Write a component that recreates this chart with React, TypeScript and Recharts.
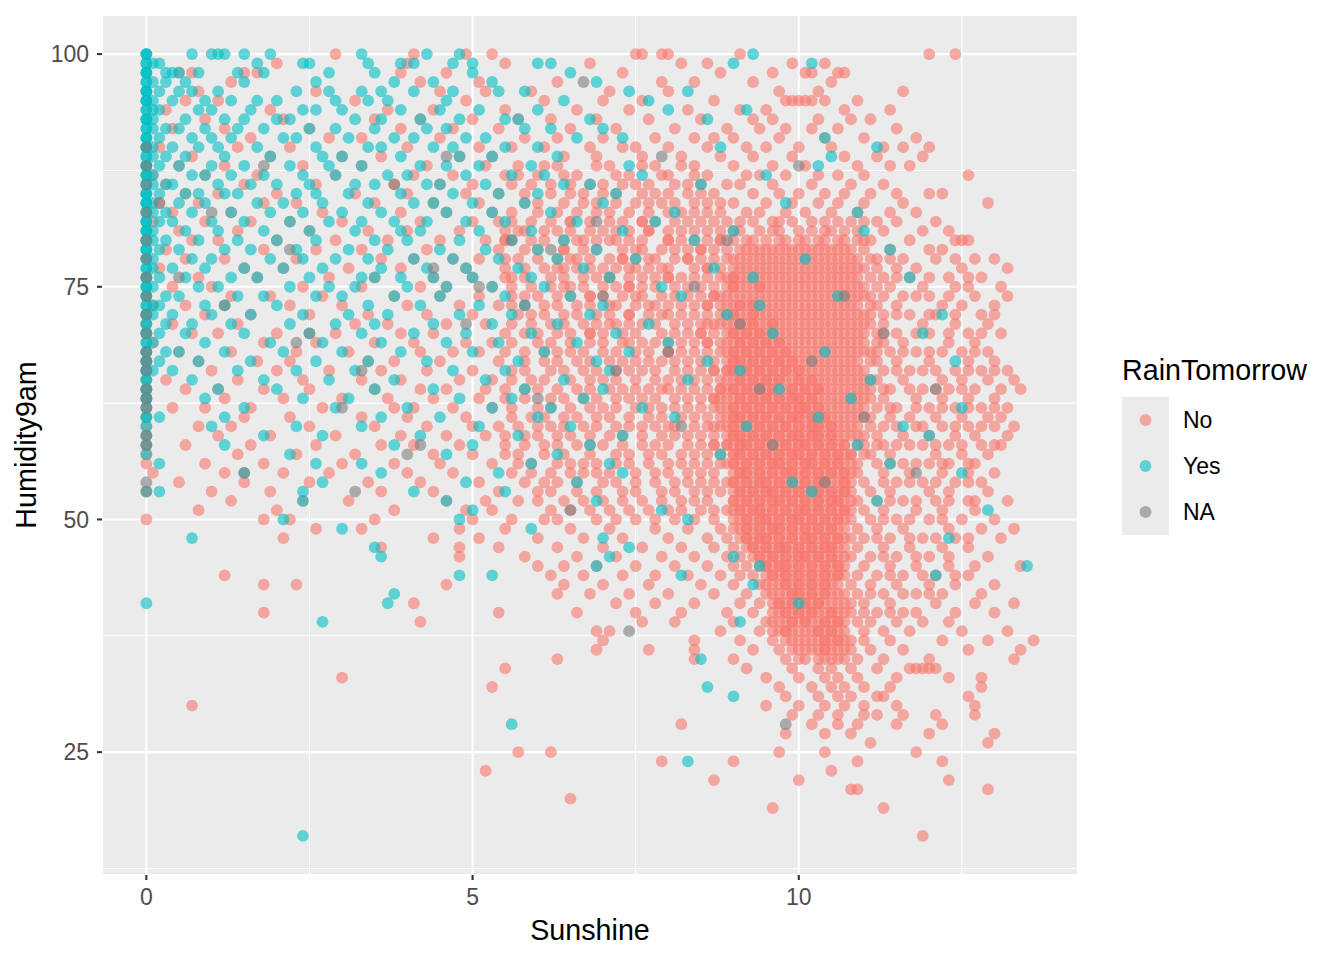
import React from 'react';
import { ScatterChart, Scatter, XAxis, YAxis, CartesianGrid, ReferenceLine, Label } from 'recharts';

const xTicks = [0, 5, 10];
const yTicks = [25, 50, 75, 100];
const xMinor = [2.5, 7.5, 12.5];
const yMinor = [12.5, 37.5, 62.5, 87.5];
const seriesNames = ['No', 'Yes', 'NA'];
const seriesColors = ['#F8766D', '#00BFC4', '#7F7F7F'];

// "Humidity9am: Sunshine Sunshine ..."
const noRows = [
  '100: 2.9 4.1 4.9 5.3 7.5 7.6 7.9 8.0 9.1 12.0 12.4',
  '99: 2.0 4.0 5.5 6.8 8.2 8.6 9.9 10.4',
  '98: 0.5 0.7 1.5 1.7 3.9 4.6 7.3 8.8 9.6 10.1 10.2 10.6 10.7',
  '97: 1.3 4.2 5.1 6.3 7.9 8.4 9.3 10.5',
  '96: 0.8 2.6 4.5 5.2 5.9 7.1 8.0 9.7 10.3 11.6',
  '95: 0.6 1.1 3.2 4.9 6.1 7.0 7.6 8.7 9.8 9.9 10.0 10.1 10.2 10.4 10.9',
  '94: 0.3 1.9 3.7 4.4 5.5 6.6 7.4 8.3 9.1 9.5 10.7 11.4',
  '93: 0.9 2.1 3.5 4.2 5.0 5.7 6.2 6.9 7.7 8.5 9.3 9.6 10.3 10.8 11.1',
  '92: 0.4 1.2 2.5 3.9 4.7 5.4 6.5 7.2 8.1 8.9 9.4 9.8 10.2 10.6 11.5',
  '91: 1.6 2.8 3.3 4.5 5.8 6.3 7.0 7.8 8.4 8.7 9.0 9.7 10.4 11.0 11.8',
  '90: 0.2 1.4 2.2 4.0 5.1 5.6 6.1 6.8 7.3 7.5 8.0 8.6 9.2 9.5 10.0 10.5 11.3 11.6 12.0',
  '89: 0.7 1.9 3.0 3.6 4.8 5.3 6.4 6.9 7.6 8.2 8.8 9.3 9.9 10.7 11.2 11.9',
  '88: 0.5 1.2 2.4 3.3 4.3 5.2 5.7 6.3 7.1 7.8 8.4 9.0 9.6 10.1 10.9 11.4 11.7',
  '87: 0.1 0.9 1.7 2.9 4.1 4.7 5.5 6.0 6.6 7.4 7.9 8.6 9.2 9.4 9.8 10.3 10.6 11.0 12.6',
  '86: 0.3 1.5 2.6 3.8 4.5 5.0 5.9 6.5 7.0 7.3 7.7 8.1 8.5 8.9 9.1 9.6 10.2 10.8 11.3',
  '85: 0.6 1.1 2.0 3.2 4.0 4.9 5.4 6.2 6.7 7.2 7.6 8.0 8.3 8.7 9.3 9.7 10.0 10.4 10.7 11.1 11.5 12.0 12.2',
  '84: 0.2 0.8 1.8 2.3 3.5 4.4 5.1 5.8 6.4 6.9 7.5 7.9 8.4 8.8 9.0 9.5 9.9 10.3 10.6 11.0 11.6 12.9',
  '83: 0.4 1.3 2.7 3.9 4.6 5.3 6.0 6.6 7.1 7.7 8.2 8.6 9.2 9.4 9.8 10.1 10.5 10.9 11.4 11.8',
  '82: 0.1 0.9 1.6 2.2 3.0 4.2 5.0 5.6 6.2 6.8 7.3 7.8 8.1 8.5 8.9 9.3 9.6 9.9 10.2 10.6 11.0 11.2 11.5 12.1',
  '81: 0.5 1.4 2.5 3.4 4.0 4.8 5.5 6.1 6.5 7.0 7.4 8.0 8.4 8.8 9.1 9.4 9.7 10.0 10.4 10.7 11.3 11.9 12.3',
  '80: 0.0 0.7 1.1 2.0 2.9 3.7 4.5 5.2 5.9 6.4 6.9 7.2 7.6 8.2 8.6 9.0 9.2 9.5 9.8 10.1 10.3 10.6 10.9 11.1 11.7 12.4 12.5 12.6',
  '79: 0.3 1.8 2.6 3.3 4.3 5.4 6.0 6.7 7.3 7.9 8.3 8.7 9.1 9.3 9.6 9.9 10.2 10.5 10.8 11.4 12.0 12.2',
  '78: 0.0 0.6 1.2 2.3 3.6 4.1 4.7 5.1 5.7 6.3 6.8 7.1 7.5 7.8 8.1 8.5 8.9 9.2 9.4 9.7 10.0 10.4 10.6 10.9 11.2 11.6 12.1 12.7 13.0',
  '77: 0.2 1.5 2.1 3.1 3.9 4.9 5.5 6.1 6.6 7.0 7.7 8.0 8.4 8.8 9.0 9.5 9.8 10.1 10.3 10.7 11.0 11.5 11.8 12.5 13.2',
  '76: 0.0 0.8 1.7 2.8 3.5 4.4 5.0 5.8 6.4 6.9 7.4 7.8 8.2 8.6 9.1 9.3 9.6 9.9 10.2 10.5 10.8 11.1 11.3 11.7 12.3 12.8',
  '75: 0.4 1.0 2.4 3.3 4.2 4.6 5.3 5.9 6.2 6.7 7.2 7.6 8.1 8.7 9.0 9.4 9.7 10.0 10.3 10.6 10.9 11.4 11.9 12.4 12.6 13.1',
  '74: 0.0 1.3 1.9 2.7 3.8 4.5 5.1 5.6 6.0 6.5 7.0 7.3 7.9 8.3 8.5 8.9 9.2 9.5 9.8 10.1 10.4 10.7 11.0 11.6 12.0 12.7 13.2',
  '73: 0.1 0.6 2.2 3.0 4.0 4.8 5.4 6.3 6.8 7.5 8.0 8.4 8.8 9.1 9.3 9.6 9.9 10.2 10.5 10.8 11.2 11.5 12.2 12.5 13.0',
  '72: 0.0 0.9 1.6 2.5 3.4 4.3 5.0 5.7 6.1 6.6 7.1 7.7 8.2 8.6 9.0 9.2 9.4 9.7 10.0 10.3 10.6 10.9 11.1 11.7 12.1 12.8',
  '71: 0.0 0.4 1.4 3.2 3.7 4.6 5.2 5.9 6.4 6.9 7.4 7.8 8.1 8.5 8.8 9.1 9.3 9.5 9.8 10.1 10.4 10.7 11.0 11.3 11.9 12.4 12.9',
  '70: 0.0 0.7 1.1 2.0 2.9 3.9 4.4 5.5 6.0 6.5 7.0 7.3 7.9 8.3 8.7 9.0 9.2 9.4 9.6 9.9 10.2 10.5 10.8 11.0 11.5 12.0 12.6 13.1',
  '69: 0.1 1.8 2.6 3.5 4.1 4.9 5.3 6.2 6.8 7.6 8.0 8.4 8.8 9.1 9.3 9.5 9.7 10.0 10.3 10.6 10.9 11.2 11.6 12.3 12.7',
  '68: 0.0 0.5 1.3 2.3 3.1 4.2 4.7 5.1 5.8 6.3 6.7 7.2 7.7 8.2 8.6 9.0 9.2 9.4 9.6 9.8 10.1 10.4 10.7 11.0 11.4 11.8 12.2 12.5 12.9',
  '67: 0.0 0.8 1.7 2.2 3.4 3.8 4.5 5.4 6.1 6.6 7.1 7.5 7.9 8.3 8.7 9.1 9.3 9.5 9.7 9.9 10.2 10.5 10.8 11.1 11.5 12.0 12.6 13.0',
  '66: 0.0 1.0 2.0 2.8 3.6 4.3 5.0 5.6 6.4 6.9 7.4 8.1 8.5 8.9 9.0 9.2 9.4 9.6 9.8 10.0 10.3 10.6 10.9 11.3 11.7 12.1 12.4 12.8 13.2',
  '65: 0.0 0.3 1.4 2.4 3.3 3.9 4.8 5.3 5.9 6.5 7.0 7.8 8.2 8.6 9.1 9.3 9.5 9.7 10.0 10.2 10.4 10.7 11.0 11.2 11.6 12.2 12.5 12.9 13.3',
  '64: 0.0 0.6 1.1 1.8 2.5 3.5 4.2 4.6 5.2 5.8 6.3 6.8 7.3 7.7 8.0 8.4 8.8 9.0 9.2 9.4 9.6 9.9 10.1 10.3 10.6 10.9 11.1 11.4 11.9 12.3 12.7 13.4',
  '63: 0.0 1.2 2.1 3.0 3.7 4.4 5.1 5.5 6.2 6.7 7.2 7.6 8.1 8.5 8.9 9.1 9.3 9.5 9.7 9.9 10.2 10.5 10.8 11.0 11.3 11.8 12.2 12.6 13.0',
  '62: 0.0 0.4 0.9 1.6 2.7 3.8 4.1 4.7 5.3 6.0 6.5 7.0 7.5 7.9 8.3 8.7 9.0 9.2 9.4 9.6 9.8 10.0 10.3 10.6 10.9 11.2 11.5 12.0 12.4 12.8 13.2',
  '61: 0.0 1.5 2.2 3.3 4.0 4.9 5.6 6.1 6.6 7.1 7.7 8.2 8.6 9.1 9.3 9.5 9.7 9.9 10.1 10.4 10.7 11.0 11.4 11.7 12.1 12.5 12.9 13.1',
  '60: 0.0 0.8 1.3 2.5 3.5 4.3 5.0 5.4 6.0 6.4 6.9 7.4 7.8 8.1 8.4 8.8 9.0 9.2 9.4 9.6 9.8 10.0 10.2 10.5 10.8 11.1 11.3 11.8 12.2 12.6 13.0 13.3',
  '59: 0.0 1.1 1.9 2.9 3.9 4.6 5.2 5.8 6.3 6.8 7.3 7.9 8.3 8.7 9.1 9.3 9.5 9.7 9.9 10.1 10.3 10.6 10.9 11.2 11.6 12.0 12.4 12.7 13.2',
  '58: 0.0 0.6 1.6 2.6 3.6 4.1 4.8 5.5 6.1 6.6 7.0 7.6 8.0 8.5 8.9 9.0 9.2 9.4 9.6 9.8 10.0 10.2 10.4 10.7 11.0 11.3 11.5 11.9 12.3 12.8 13.1',
  '57: 0.0 1.4 2.3 3.2 4.4 5.0 5.7 6.4 7.2 7.7 8.2 8.6 9.1 9.3 9.5 9.7 9.9 10.1 10.3 10.5 10.8 11.1 11.4 12.1 12.5 12.9',
  '56: 0.0 0.9 1.8 3.0 3.8 4.5 5.3 5.9 6.5 6.9 7.4 8.0 8.4 8.8 9.0 9.2 9.4 9.6 9.8 10.0 10.2 10.4 10.6 10.9 11.2 11.6 12.0 12.3 12.7',
  '55: 0.1 1.2 2.1 2.8 4.0 4.7 5.6 6.2 6.7 7.1 7.8 8.3 8.7 9.1 9.3 9.5 9.7 9.9 10.1 10.3 10.6 10.9 11.3 11.7 12.2 12.6 13.0',
  '54: 0.5 1.5 2.5 3.4 4.2 5.1 5.8 6.3 7.0 7.5 8.1 8.5 8.9 9.0 9.2 9.4 9.6 9.8 10.0 10.2 10.4 10.7 11.0 11.5 11.9 12.4 12.8',
  '53: 1.0 1.9 3.6 4.4 5.4 6.0 6.6 7.3 7.9 8.4 8.8 9.1 9.3 9.5 9.7 9.9 10.1 10.3 10.5 10.8 11.1 11.4 12.0 12.3 12.9',
  '52: 1.3 2.4 3.1 4.6 5.2 5.7 6.4 7.0 7.6 8.2 8.6 9.0 9.2 9.4 9.6 9.8 10.0 10.2 10.4 10.6 10.9 11.2 11.6 12.1 12.6 13.2',
  '51: 0.8 2.0 3.8 4.9 5.3 6.2 6.8 7.4 8.0 8.5 8.9 9.1 9.3 9.5 9.7 9.9 10.1 10.3 10.5 10.7 11.0 11.3 11.8 12.2 12.7',
  '50: 0.0 1.8 2.2 3.5 5.0 5.6 6.1 6.9 7.5 8.1 8.7 9.0 9.2 9.4 9.6 9.8 10.0 10.2 10.4 10.6 10.8 11.1 11.5 12.0 12.5 13.0',
  '49: 2.6 3.3 4.8 5.5 6.5 7.1 7.8 8.3 8.8 9.1 9.3 9.5 9.7 9.9 10.1 10.3 10.5 10.7 10.9 11.2 11.6 12.3 12.8 13.3',
  '48: 2.1 4.4 5.1 6.0 6.7 7.3 8.0 8.6 8.9 9.2 9.4 9.6 9.8 10.0 10.2 10.4 10.6 10.8 11.0 11.4 11.9 12.4 13.1',
  '47: 3.6 4.8 5.4 6.3 7.0 7.6 8.2 8.7 9.0 9.3 9.5 9.7 9.9 10.1 10.3 10.5 10.7 10.9 11.3 11.7 12.2 12.6',
  '46: 4.8 5.8 6.6 7.2 7.9 8.4 8.9 9.1 9.4 9.6 9.8 10.0 10.2 10.4 10.6 10.8 11.1 11.5 12.0 12.9',
  '45: 6.0 6.4 6.9 7.5 8.1 8.6 9.0 9.2 9.5 9.7 9.9 10.1 10.3 10.5 10.7 11.0 11.4 11.8 12.3 12.7 13.4',
  '44: 1.2 6.2 6.7 7.3 7.8 8.3 8.8 9.1 9.3 9.6 9.8 10.0 10.2 10.4 10.6 10.9 11.2 11.6 12.1 12.6',
  '43: 1.8 2.3 4.6 6.4 7.0 7.7 8.5 9.0 9.4 9.7 9.9 10.1 10.3 10.5 10.8 11.1 11.5 12.0 12.4 13.0',
  '42: 6.3 6.8 7.4 8.0 8.7 9.2 9.5 9.8 10.0 10.2 10.4 10.7 10.9 11.3 11.8 12.2 12.8',
  '41: 4.1 7.2 7.8 8.4 9.1 9.4 9.7 9.9 10.1 10.3 10.6 10.8 11.0 11.4 12.1 12.7 13.3',
  '40: 1.8 5.4 6.6 7.5 8.2 8.9 9.3 9.6 9.8 10.0 10.2 10.5 10.7 11.0 11.2 11.6 12.4 13.0',
  '39: 4.2 7.6 8.1 9.0 9.5 9.7 9.9 10.1 10.4 10.6 10.9 11.1 11.5 11.9 12.3',
  '38: 6.9 7.1 8.8 9.4 9.6 9.8 10.0 10.3 10.5 10.7 11.0 11.3 11.7 12.5 13.2',
  '37: 7.0 8.4 9.1 9.6 9.9 10.2 10.4 10.6 10.8 11.0 11.4 12.2 12.9 13.6',
  '36: 6.9 7.7 8.4 9.3 9.7 10.0 10.3 10.5 10.7 11.1 11.6 12.6 13.4',
  '35: 6.3 8.4 9.0 9.8 10.1 10.4 10.6 10.9 11.3 12.0 13.3',
  '34: 5.5 9.2 9.9 10.3 10.5 10.8 11.2 11.7 11.8 11.9 12.0 12.1',
  '33: 3.0 9.5 10.0 10.4 10.6 10.9 11.5 12.3 12.8',
  '32: 5.3 9.7 10.2 10.5 10.7 11.0 11.4 12.8',
  '31: 9.8 10.3 10.6 10.8 11.2 11.3 12.6',
  '30: 0.7 9.5 10.0 10.4 10.7 11.0 11.5 12.7',
  '29: 9.9 10.3 10.6 11.0 11.2 11.6 12.1 12.7',
  '28: 8.2 10.2 10.6 10.9 11.5 12.2',
  '27: 9.8 10.4 10.8 12.0 13.0',
  '26: 11.1 12.9',
  '25: 5.7 6.2 9.7 10.4 11.8',
  '24: 7.9 9.0 10.9 12.2',
  '23: 5.2 10.5',
  '22: 8.7 10.0 12.3',
  '21: 10.8 10.9 12.9',
  '20: 6.5',
  '19: 9.6 11.3',
  '16: 11.9',
];

// the crowded No core around Sunshine 9-11, where points sit on nearly every 0.1 step
const noCoreRows = [
  '82: 9.1 9.7 10.4 10.8 6.5 7.6',
  '81: 9.0 9.6 10.2 10.5 10.9 5.8 7.7',
  '80: 8.8 9.3 9.7 10.0 10.4 10.7 11.0 5.5 6.7 8.0',
  '79: 8.5 8.9 9.2 9.5 9.8 10.1 10.4 10.7 11.0 6.4 7.6',
  '78: 9.0 9.3 9.6 9.9 10.2 10.5 10.8 11.1 6.5 7.3 8.3',
  '77: 8.6 9.1 9.3 9.6 9.9 10.2 10.5 10.9 11.2 6.3 7.4',
  '76: 8.9 9.0 9.4 9.7 10.0 10.3 10.6 10.9 5.5 7.1 8.0',
  '75: 8.9 9.1 9.3 9.5 9.8 10.1 10.4 10.7 11.0 11.2 6.5 7.4',
  '74: 8.7 9.0 9.3 9.6 9.9 10.2 10.5 10.8 11.1 6.8 7.6',
  '73: 8.6 9.0 9.2 9.4 9.7 10.0 10.3 10.6 10.9 11.1 7.1 7.8',
  '72: 8.8 9.1 9.3 9.5 9.8 10.1 10.4 10.7 11.0 11.3 7.4 8.0',
  '71: 8.6 9.0 9.2 9.4 9.6 9.9 10.2 10.5 10.8 11.1 7.1',
  '70: 8.5 8.9 9.1 9.3 9.5 9.7 10.0 10.3 10.6 10.9 11.2 6.8',
  '69: 8.6 9.0 9.2 9.4 9.6 9.8 10.1 10.4 10.7 11.0 11.3 7.3',
  '68: 8.8 9.1 9.3 9.5 9.7 9.9 10.2 10.5 10.8 11.1 8.0',
  '67: 8.9 9.0 9.2 9.4 9.6 9.8 10.0 10.3 10.6 10.9 11.2',
  '66: 8.7 9.1 9.3 9.5 9.7 9.9 10.1 10.4 10.7 11.0 7.8',
  '65: 8.8 9.0 9.2 9.4 9.6 9.8 10.1 10.3 10.6 10.9 11.1',
  '64: 8.9 9.1 9.3 9.5 9.7 9.8 10.0 10.2 10.4 10.7 11.0',
  '63: 8.7 9.0 9.2 9.4 9.6 9.8 10.0 10.1 10.3 10.6 10.9 11.1',
  '62: 8.8 9.1 9.3 9.5 9.7 9.9 10.1 10.2 10.4 10.7 11.0',
  '61: 8.9 9.0 9.2 9.4 9.6 9.8 10.0 10.2 10.3 10.5 10.8 11.1',
  '60: 8.7 9.1 9.3 9.5 9.7 9.9 10.1 10.3 10.4 10.6 10.9',
  '59: 8.9 9.0 9.2 9.4 9.6 9.8 10.0 10.2 10.4 10.5 10.8 11.0',
  '58: 8.7 9.1 9.3 9.5 9.7 9.9 10.1 10.3 10.5 10.6 10.9',
  '57: 8.8 9.0 9.2 9.4 9.6 9.8 10.0 10.2 10.4 10.6 10.7 11.0',
  '56: 8.9 9.1 9.3 9.5 9.7 9.9 10.1 10.3 10.5 10.7 10.8',
  '55: 9.0 9.2 9.4 9.6 9.8 10.0 10.2 10.4 10.5 10.7 10.8',
  '54: 9.1 9.3 9.5 9.7 9.9 10.1 10.3 10.5 10.6 10.8',
  '53: 9.0 9.2 9.4 9.6 9.8 10.0 10.2 10.4 10.6 10.7',
  '52: 9.1 9.3 9.5 9.7 9.9 10.1 10.3 10.5 10.7 10.8',
  '51: 9.0 9.2 9.4 9.6 9.8 10.0 10.2 10.4 10.6 10.8',
  '50: 9.1 9.3 9.5 9.7 9.9 10.1 10.3 10.5 10.7',
  '49: 9.0 9.2 9.4 9.6 9.8 10.0 10.2 10.4 10.6',
  '48: 9.1 9.3 9.5 9.7 9.9 10.1 10.3 10.5 10.7',
  '47: 9.2 9.4 9.6 9.8 10.0 10.2 10.4 10.6',
  '46: 9.3 9.5 9.7 9.9 10.1 10.3 10.5 10.7',
  '45: 9.4 9.6 9.8 10.0 10.2 10.4 10.6',
  '44: 9.5 9.7 9.9 10.1 10.3 10.5 10.7',
  '43: 9.5 9.8 10.0 10.2 10.4 10.6',
  '42: 9.6 9.9 10.1 10.3 10.5 10.6',
  '41: 9.6 9.8 10.0 10.2 10.4 10.7',
  '40: 9.7 9.9 10.1 10.3 10.6 10.8',
  '39: 9.6 9.8 10.0 10.3 10.5 10.7',
  '38: 9.7 9.9 10.2 10.4 10.6',
  '37: 9.8 10.0 10.3 10.5 10.7',
  '36: 9.9 10.1 10.4 10.6',
  '35: 10.0 10.3 10.5 10.7',
];

// repeated readings stacked on the darkest part of the core
const noDenseRows = [
  '79: 9.4 9.7 10.0 10.3 10.6',
  '78: 9.1 9.5 9.8 10.1 10.3 10.7',
  '77: 9.2 9.4 9.7 10.0 10.4 10.6 10.8',
  '76: 9.0 9.2 9.5 9.8 10.1 10.4 10.7',
  '75: 9.0 9.2 9.4 9.6 9.9 10.2 10.5 10.8',
  '74: 8.8 9.1 9.4 9.7 10.0 10.3 10.6 10.9',
  '73: 8.9 9.1 9.3 9.5 9.8 10.1 10.4 10.7',
  '72: 8.9 9.0 9.3 9.6 9.9 10.2 10.5 10.8',
  '71: 8.9 9.1 9.3 9.6 9.7 10.0 10.3 10.6 10.9',
  '70: 9.0 9.2 9.4 9.6 9.8 10.1 10.4 10.7',
  '69: 8.9 9.1 9.3 9.5 9.7 9.9 10.2 10.5 10.8',
  '68: 8.9 9.0 9.2 9.4 9.6 9.8 10.0 10.3 10.6 10.9',
  '67: 9.0 9.1 9.3 9.5 9.7 9.9 10.1 10.4 10.7',
  '66: 8.9 9.0 9.2 9.4 9.6 9.8 10.0 10.2 10.5 10.8',
  '65: 8.9 9.1 9.3 9.5 9.7 9.9 10.0 10.2 10.5 10.8',
  '64: 8.8 9.0 9.2 9.4 9.6 9.9 10.1 10.3 10.5 10.8',
  '63: 8.8 9.1 9.3 9.5 9.7 9.9 10.0 10.2 10.4 10.7',
  '62: 8.9 9.0 9.2 9.4 9.6 9.8 10.0 10.1 10.3 10.5 10.8',
  '61: 9.0 9.1 9.3 9.5 9.7 9.9 10.0 10.2 10.4 10.6 10.9',
  '60: 8.9 9.0 9.2 9.4 9.6 9.8 10.0 10.2 10.3 10.5 10.7',
  '59: 9.0 9.1 9.3 9.5 9.7 9.9 10.0 10.2 10.3 10.5 10.7',
  '58: 8.9 9.1 9.2 9.4 9.6 9.8 10.0 10.1 10.3 10.5 10.7',
  '57: 9.0 9.1 9.3 9.5 9.7 9.9 10.0 10.2 10.4 10.6 10.8',
  '56: 9.0 9.2 9.4 9.6 9.7 9.9 10.1 10.2 10.4 10.6',
  '55: 9.1 9.2 9.4 9.6 9.8 9.9 10.1 10.3 10.5 10.7',
  '54: 9.0 9.2 9.4 9.5 9.7 9.9 10.1 10.3 10.4 10.7',
  '53: 9.1 9.3 9.5 9.6 9.8 10.0 10.2 10.3 10.5 10.7',
  '52: 9.0 9.2 9.4 9.6 9.7 9.9 10.1 10.3 10.5 10.6',
  '51: 9.1 9.3 9.4 9.6 9.8 10.0 10.1 10.3 10.5 10.7',
  '50: 9.2 9.4 9.5 9.7 9.9 10.0 10.2 10.4 10.6',
  '49: 9.2 9.4 9.6 9.7 9.9 10.1 10.3 10.5',
  '48: 9.2 9.4 9.5 9.7 9.9 10.1 10.2 10.4 10.6',
  '47: 9.3 9.5 9.7 9.8 10.0 10.2 10.4 10.5',
  '46: 9.4 9.6 9.8 10.0 10.1 10.3 10.5',
  '45: 9.5 9.7 9.8 10.0 10.2 10.4 10.6',
  '44: 9.6 9.8 10.0 10.2 10.4 10.6',
  '43: 9.6 9.8 10.0 10.2 10.4',
  '42: 9.7 9.9 10.0 10.2 10.4',
  '41: 9.7 9.9 10.1 10.3 10.5',
  '40: 9.8 10.0 10.2 10.4 10.5',
  '39: 9.9 10.1 10.2 10.4 10.6',
  '38: 9.8 10.1 10.3 10.5',
  '37: 10.1 10.4 10.6',
  '36: 10.2 10.4 10.8',
];

// extra No readings in the busy middle band (Sunshine 5.5-8.8) and on the right (11-13)
const noMidRows = [
  '88: 6.1 6.9 7.6 8.2',
  '87: 5.7 6.4 7.2 8.0 8.4',
  '86: 5.6 6.2 6.8 7.5 8.3',
  '85: 5.8 6.5 7.0 7.8 8.5',
  '84: 6.0 6.7 7.2 7.7 8.1 8.6',
  '83: 5.6 6.3 6.9 7.4 8.0 8.4 8.8',
  '82: 5.4 5.9 6.5 7.1 7.6 8.3 8.7',
  '81: 5.7 6.3 6.8 7.2 7.7 8.2 8.6',
  '80: 5.5 6.1 6.6 7.1 7.4 8.0 8.4 8.8',
  '79: 5.8 6.4 6.9 7.5 8.1 8.5',
  '78: 5.5 6.0 6.6 7.3 7.7 8.3 8.7 11.4 12.4',
  '77: 5.8 6.4 6.8 7.2 7.5 7.9 8.6',
  '76: 5.6 6.2 6.7 7.1 7.6 8.0 8.4 8.8 11.5 12.0 12.6',
  '75: 5.6 6.4 7.0 7.4 7.8 8.3 8.5',
  '74: 5.8 6.3 6.8 7.5 8.1 8.7 11.3 11.8 12.3',
  '73: 5.6 6.1 6.6 7.2 7.7 8.2 8.6',
  '72: 5.9 6.4 6.9 7.4 7.9 8.4 11.5 12.0 12.4 13.0',
  '71: 5.6 6.2 6.7 7.2 7.6 8.3 8.7',
  '70: 5.8 6.3 6.8 7.5 8.1 8.5 11.3 11.8 12.3 12.8',
  '69: 5.6 6.0 6.5 7.0 7.4 7.8 8.2 8.6',
  '68: 5.5 6.1 6.5 7.0 7.5 8.0 8.4 11.2 11.6 12.0 12.7',
  '67: 5.8 6.3 6.8 7.3 7.7 8.1 8.5',
  '66: 5.8 6.2 6.7 7.2 7.6 8.3 8.7 11.5 11.9 12.6 13.0',
  '65: 5.6 6.1 6.8 7.2 7.5 8.0 8.4',
  '64: 5.5 6.0 6.6 7.1 7.5 7.9 8.2 8.6 11.3 11.7 12.1 12.5 13.1',
  '63: 5.8 6.4 6.9 7.4 7.8 8.3 8.7',
  '62: 5.6 6.2 6.8 7.2 7.7 8.1 8.5 11.4 11.8 12.2 12.6 13.0',
  '61: 5.9 6.4 6.9 7.4 7.9 8.4 8.8',
  '60: 5.7 6.2 6.7 7.2 7.6 8.0 8.6 11.5 11.9 12.4 12.8',
  '59: 5.5 6.0 6.5 7.1 7.6 8.1 8.5',
  '58: 5.8 6.3 6.8 7.3 7.8 8.3 8.7 11.2 11.7 12.1 12.5 13.0',
  '57: 5.5 6.1 6.8 7.4 7.9 8.4',
  '56: 5.7 6.3 6.7 7.2 7.7 8.2 8.6 11.4 11.8 12.2 12.6',
  '55: 5.9 6.5 6.9 7.5 8.0 8.5',
  '54: 6.1 6.6 7.2 7.8 8.3 8.7 11.3 11.7 12.1 12.6',
  '53: 6.2 6.9 7.5 8.1 8.6',
  '52: 6.0 6.7 7.3 7.9 8.4 11.4 11.8 12.3 12.7',
  '51: 6.5 7.1 7.7 8.2 8.7',
  '50: 6.3 7.2 7.8 8.4 11.3 11.7 12.2',
  '48: 11.2 11.7 12.1 12.6',
  '46: 11.3 11.8 12.3',
  '44: 11.4 11.9 12.4',
  '42: 11.1 11.6 12.0',
  '40: 11.4 11.8',
];

const yesRows = [
  '100: 0.0 0.7 1.0 1.1 1.2 1.5 1.9 3.3 4.3 4.8 9.3',
  '99: 0.0 0.2 1.7 2.4 2.5 3.4 3.9 4.1 4.7 5.0 6.0 6.2 9.0 10.2',
  '98: 0.0 0.3 0.4 0.5 0.8 1.4 1.8 2.8 3.5 5.0 6.5',
  '97: 0.0 0.3 0.6 1.5 2.6 3.8 4.4 5.3 6.9',
  '96: 0.0 0.2 0.5 0.7 1.1 2.3 2.8 3.3 3.6 4.1 4.7 5.4 5.8 7.4 8.3',
  '95: 0.0 0.1 0.4 0.9 1.3 1.7 2.0 2.9 3.4 3.7 4.6 6.4 7.7',
  '94: 0.0 0.2 0.8 1.0 1.6 2.4 2.6 3.0 3.9 4.5 5.1 6.0 8.0 9.2',
  '93: 0.0 0.1 0.6 1.2 1.5 2.0 2.2 3.2 3.6 4.2 4.8 5.5 5.7 6.8 8.6',
  '92: 0.0 0.3 0.5 0.9 1.4 1.8 2.5 2.9 3.5 4.3 4.6 5.8 6.2 7.0',
  '91: 0.0 0.2 0.7 1.0 1.3 2.1 2.3 3.1 3.8 4.1 4.9 5.2 6.6 7.3 10.4',
  '90: 0.0 0.1 0.4 0.8 1.1 1.7 2.6 3.4 3.6 4.4 4.7 5.5 6.0 8.8 11.2',
  '89: 0.0 0.3 0.6 1.2 1.9 2.7 3.0 3.9 4.8 5.3 6.3 10.5',
  '88: 0.0 0.2 0.5 1.0 1.5 2.2 2.8 3.3 4.2 4.6 5.1 5.9 7.4 10.3',
  '87: 0.0 0.1 0.7 0.9 1.3 1.8 2.4 2.9 3.7 4.0 4.9 5.6 6.1 7.6 9.5',
  '86: 0.0 0.3 0.4 1.1 1.6 2.0 2.5 3.2 3.5 4.3 4.5 5.2 6.4 6.8 8.5',
  '85: 0.0 0.2 0.6 0.8 1.2 1.4 2.3 2.6 3.1 3.9 4.7 5.4 6.0 7.2',
  '84: 0.0 0.1 0.5 0.9 1.7 2.1 2.7 3.4 4.1 4.4 5.0 5.8 7.0 9.8',
  '83: 0.0 0.3 0.7 1.3 1.9 2.4 3.0 3.6 4.6 5.3 6.2 8.1 10.9',
  '82: 0.0 0.2 0.4 1.0 1.5 2.2 2.8 3.3 3.8 4.3 4.9 5.5 6.6 7.8',
  '81: 0.0 0.1 0.6 1.1 1.8 2.5 3.2 3.9 4.2 5.1 5.9 7.3 9.0 11.0',
  '80: 0.0 0.3 0.8 1.4 2.0 2.6 3.5 4.0 4.8 5.6 6.4 8.4',
  '79: 0.0 0.2 0.5 1.2 1.6 2.3 3.1 3.7 4.5 5.2 6.0 6.9 11.4',
  '78: 0.0 0.1 0.7 1.0 1.9 2.4 2.9 3.4 4.1 4.7 5.4 6.3 7.5 10.1',
  '77: 0.0 0.4 0.9 1.5 2.1 2.7 3.6 4.3 4.9 5.7 6.7 8.7',
  '76: 0.0 0.2 0.6 1.3 1.7 2.5 3.3 3.5 3.9 4.4 5.0 5.9 7.1 9.3 11.7',
  '75: 0.0 0.1 0.8 1.1 2.2 2.8 3.2 4.0 4.6 5.3 6.1 7.9',
  '74: 0.0 0.3 0.5 1.4 1.8 2.6 3.0 3.8 4.5 5.5 6.5 8.2 10.6',
  '73: 0.0 0.2 0.9 1.2 2.0 3.4 4.2 5.1 5.8 7.0 9.4',
  '72: 0.0 0.1 0.4 1.0 1.6 2.4 3.1 3.7 4.8 5.6 6.8 8.9 12.2',
  '71: 0.0 0.3 0.7 1.3 2.2 2.9 3.5 4.4 5.3 6.3 7.7',
  '70: 0.0 0.2 0.6 1.5 2.5 3.3 4.1 4.9 5.9 7.2 9.6 11.9',
  '69: 0.0 0.1 0.9 1.9 2.7 3.6 4.6 5.4 6.6 8.0',
  '68: 0.0 0.3 0.5 1.2 2.1 3.0 3.9 5.0 6.1 7.4 10.4',
  '67: 0.0 0.2 0.8 1.6 2.6 3.4 4.3 5.7 6.9 8.6 12.4',
  '66: 0.0 0.1 0.4 1.4 2.3 3.2 4.7 5.5 7.1 9.1',
  '65: 0.0 0.7 1.8 2.8 3.8 5.2 6.4 8.3 11.1',
  '64: 0.0 1.1 2.0 3.5 4.4 5.8 7.0 9.7',
  '63: 0.0 0.9 2.4 3.1 4.8 5.6 6.7 10.8',
  '62: 0.0 1.5 2.9 4.0 5.3 6.2 7.6 12.5',
  '61: 0.0 0.2 1.2 3.6 4.5 6.0 8.1 10.3',
  '60: 0.0 1.0 2.3 3.3 5.1 6.5 9.2 11.6',
  '59: 0.0 1.8 2.7 4.2 5.7 7.3 12.0',
  '58: 0.0 1.2 3.8 5.0 6.8 10.9',
  '57: 0.0 2.2 4.6 6.3 8.8',
  '56: 0.2 2.6 3.3 5.9 7.1 11.4',
  '55: 1.5 3.6 5.4 7.3 12.5',
  '54: 2.7 4.9 6.6 9.9',
  '53: 0.0 0.2 2.4 4.1 5.5 10.2',
  '52: 2.4 4.6 6.9 11.2',
  '51: 5.0 7.9 12.9',
  '50: 2.1 4.8 8.3',
  '49: 3.0 5.9',
  '48: 0.7 7.0 12.3',
  '47: 3.5 7.4',
  '46: 3.6 7.1 9.0',
  '45: 6.9 9.4 13.5',
  '44: 4.8 5.3 8.2 12.1',
  '43: 9.3',
  '42: 3.8',
  '41: 0.0 3.7 10.0',
  '39: 2.7 9.1',
  '35: 8.5',
  '32: 8.6',
  '31: 9.0',
  '28: 5.6',
  '24: 8.3',
  '16: 2.4',
];

// many rainy days with no sunshine at all pile up on the Sunshine = 0 column
const yesZeroRows = [
  '100: 0.0 0.0', '99: 0.0 0.1', '98: 0.0 0.0', '97: 0.0 0.1', '96: 0.0 0.0', '95: 0.0 0.0',
  '94: 0.0 0.1', '93: 0.0 0.0', '92: 0.0 0.1', '91: 0.0 0.0', '90: 0.0 0.0', '89: 0.0 0.1',
  '88: 0.0 0.0', '87: 0.0 0.0', '86: 0.0 0.1', '85: 0.0 0.0', '84: 0.0 0.0', '83: 0.0 0.1',
  '82: 0.0 0.0', '81: 0.0 0.0', '80: 0.0 0.1', '79: 0.0 0.0', '78: 0.0', '77: 0.0 0.1',
  '76: 0.0', '75: 0.0 0.0', '74: 0.0', '73: 0.0 0.1', '72: 0.0', '71: 0.0', '70: 0.0',
  '69: 0.0', '68: 0.0', '67: 0.0', '66: 0.0', '65: 0.0', '64: 0.0', '63: 0.0', '61: 0.0',
];

const naRows = [
  '97: 6.7',
  '90: 0.0',
  '89: 4.6 7.9',
  '88: 0.0 1.8 10.0',
  '86: 0.0 3.8',
  '84: 0.2',
  '83: 0.0 1.0',
  '82: 6.9',
  '80: 0.0 5.6 8.9',
  '79: 2.2 6.2',
  '78: 0.0',
  '77: 4.4',
  '76: 0.0 0.5',
  '75: 5.1 8.4',
  '74: 0.0 7.0 10.7',
  '73: 1.2 5.8',
  '72: 0.0',
  '71: 4.9 9.1',
  '70: 0.0 2.5 11.3',
  '69: 2.3',
  '68: 0.0 8.0',
  '67: 0.0 10.2',
  '66: 0.0 3.3 7.2',
  '64: 0.0 9.4 12.1',
  '63: 0.0 6.0',
  '62: 0.0 3.0',
  '61: 11.0',
  '60: 8.2',
  '59: 0.0',
  '58: 0.0 4.2 9.6',
  '57: 4.0',
  '55: 1.5 11.8',
  '54: 0.0 10.4',
  '53: 0.0 3.2',
  '51: 6.5',
  '38: 7.4',
  '28: 9.8',
];

const toPoints = (rows: string[]) =>
  rows.flatMap((row) => {
    const [h, xs] = row.split(':');
    return xs
      .trim()
      .split(/\s+/)
      .map((v) => ({ x: Number(v), y: Number(h) }));
  });

const seriesData = [
  [...toPoints(noRows), ...toPoints(noMidRows), ...toPoints(noCoreRows), ...toPoints(noDenseRows)],
  [...toPoints(yesRows), ...toPoints(yesZeroRows)],
  toPoints(naRows),
];

const FONT = '"Liberation Sans", Arial, Helvetica, sans-serif';
const DOT_R = 5.9;

const dotShape = (color: string) => (props: any) => (
  <circle cx={props.cx} cy={props.cy} r={DOT_R} fill={color} fillOpacity={0.6} />
);

const App: React.FC = () => {
  return (
    <div style={{ position: 'absolute', left: 0, top: 0, width: 1344, height: 960, background: '#fff', fontFamily: FONT }}>
      <ScatterChart width={1344} height={960} margin={{ top: 15, right: 266, bottom: 0, left: 0 }}>
        <CartesianGrid fill="#EBEBEB" stroke="#FFFFFF" strokeWidth={2.1} />
        {xMinor.map((v) => (
          <ReferenceLine key={`vx${v}`} x={v} stroke="#FFFFFF" strokeWidth={1.1} />
        ))}
        {yMinor.map((v) => (
          <ReferenceLine key={`hy${v}`} y={v} stroke="#FFFFFF" strokeWidth={1.1} />
        ))}
        <XAxis
          type="number"
          dataKey="x"
          domain={[-0.68, 14.28]}
          ticks={xTicks}
          height={85}
          axisLine={false}
          tickLine={{ stroke: '#333333', strokeWidth: 2.1 }}
          tickSize={5}
          tickMargin={9}
          tick={{ fill: '#4D4D4D', fontSize: 23, fontFamily: FONT }}
        >
          <Label
            content={(p: any) => {
              const vb = p.viewBox || { x: 102, y: 875, width: 976, height: 85 };
              return (
                <text x={vb.x + vb.width / 2} y={940} textAnchor="middle" fill="#000" fontSize={28.7} fontFamily={FONT}>
                  Sunshine
                </text>
              );
            }}
          />
        </XAxis>
        <YAxis
          type="number"
          dataKey="y"
          domain={[11.8, 104.2]}
          ticks={yTicks}
          width={102}
          axisLine={false}
          tickLine={{ stroke: '#333333', strokeWidth: 2.1 }}
          tickSize={5}
          tickMargin={8}
          tick={{ fill: '#4D4D4D', fontSize: 23, fontFamily: FONT }}
        >
          <Label
            content={(p: any) => {
              const vb = p.viewBox || { x: 0, y: 15, width: 102, height: 860 };
              const cx = 26;
              const cy = vb.y + vb.height / 2;
              return (
                <text
                  x={cx}
                  y={cy}
                  transform={`rotate(-90 ${cx} ${cy})`}
                  textAnchor="middle"
                  dominantBaseline="central"
                  fill="#000"
                  fontSize={28.7}
                  fontFamily={FONT}
                >
                  Humidity9am
                </text>
              );
            }}
          />
        </YAxis>
        {seriesData.map((d, i) => (
          <Scatter
            key={seriesNames[i]}
            name={seriesNames[i]}
            data={d}
            fill={seriesColors[i]}
            shape={dotShape(seriesColors[i])}
            isAnimationActive={false}
          />
        ))}
      </ScatterChart>
      <svg width={222} height={200} style={{ position: 'absolute', left: 1110, top: 340 }}>
        <text x={12} y={40} fontSize={28.7} fill="#000" fontFamily={FONT}>
          RainTomorrow
        </text>
        <rect x={12} y={57} width={47} height={138} fill="#EBEBEB" />
        {seriesNames.map((name, i) => (
          <g key={name}>
            <circle cx={35.5} cy={80 + i * 46} r={DOT_R} fill={seriesColors[i]} fillOpacity={0.6} />
            <text x={73} y={80 + i * 46} dominantBaseline="central" fontSize={23} fill="#000" fontFamily={FONT}>
              {name}
            </text>
          </g>
        ))}
      </svg>
    </div>
  );
};

export default App;
